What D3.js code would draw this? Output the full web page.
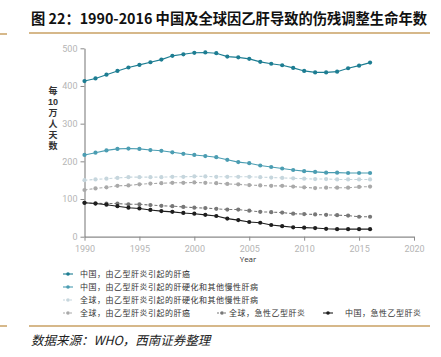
<!DOCTYPE html>
<html><head><meta charset="utf-8">
<script src="https://cdn.jsdelivr.net/npm/d3@7"></script>
<style>body{margin:0;background:#fff}svg{display:block}</style>
</head><body>
<script>
const years = d3.range(1990, 2017);
const chinaLiverCancer = [413,420,430,440,449,456,463,470,480,484,488,489,487,478,476,472,464,459,455,448,440,436,436,438,447,454,462];
const chinaCirrhosis = [217,223,229,233,234,233,230,228,224,220,217,214,211,204,198,195,189,185,181,177,174,172,170,170,169,169,169];
const globalCirrhosis = [150,152,154,156,158,158,158,158,159,159,160,160,159,159,159,159,158,157,156,155,154,153,153,152,152,152,152];
const globalLiverCancer = [124,128,131,135,136,139,141,142,143,143,144,143,142,140,139,137,136,135,135,133,131,129,130,130,130,132,133];
const globalAcute = [90,88.5,88,88,86,86,84,82,81,79,77,76,74,72,72,69,66,65,64,61,60,59,58,57,56,53,53];
const chinaAcute = [90,88,85,81,77,75,71,68,66,63,61,58,55,48,44,39,37,31,28,25,24,23,21,20,20,20,20];
const seriesNames = ["中国，由乙型肝炎引起的肝癌","中国，由乙型肝炎引起的肝硬化和其他慢性肝病","全球，由乙型肝炎引起的肝硬化和其他慢性肝病","全球，由乙型肝炎引起的肝癌","全球，急性乙型肝炎","中国，急性乙型肝炎"];
const seriesValues = [chinaLiverCancer, chinaCirrhosis, globalCirrhosis, globalLiverCancer, globalAcute, chinaAcute];
const seriesColors = ["#1d7d92","#4b9db2","#c6d6dd","#a9a9a9","#777777","#1e1e1e"];
const seriesDash = [null,null,"3,2","3,2","3,2",null];
const xTicks = [1990,1995,2000,2005,2010,2015,2020];
const yTicks = [0,100,200,300,400,500];
const title = "图 22：1990-2016 中国及全球因乙肝导致的伤残调整生命年数";
const source = "数据来源：WHO，西南证券整理";
const yLabel = ["每","10","万","人","天","数"];

const W=441,H=357;
const svg=d3.select("body").append("svg").attr("width",W).attr("height",H);
const tan="#c9a063";
const cjk="'Noto Sans CJK SC','Noto Sans',sans-serif";

svg.append("text").attr("x",31).attr("y",24).attr("font-family",cjk).attr("font-weight","bold")
  .attr("font-size",14.5).attr("fill","#111").attr("textLength",396).attr("lengthAdjust","spacingAndGlyphs").text(title);
[[0,7,34],[29,430,33],[0,7,326],[29,430,326]].forEach(d=>{
  svg.append("line").attr("x1",d[0]).attr("x2",d[1]).attr("y1",d[2]).attr("y2",d[2]).attr("stroke",tan).attr("stroke-width",1.5);
});
svg.append("text").attr("x",31).attr("y",345).attr("font-family",cjk).attr("font-style","italic")
  .attr("font-size",12.5).attr("fill","#222").text(source);

const x=d3.scaleLinear().domain([1990,2020]).range([84.5,414]);
const y=d3.scaleLinear().domain([0,500]).range([236.7,48.3]);

const gx=svg.append("g").attr("transform","translate(0,236.7)")
  .call(d3.axisBottom(x).tickValues(xTicks).tickFormat(d3.format("d")).tickSize(4).tickSizeOuter(0));
const gy=svg.append("g").attr("transform","translate(84.5,0)")
  .call(d3.axisLeft(y).tickValues(yTicks).tickSize(4).tickSizeOuter(0));
[gx,gy].forEach(g=>{
  g.select(".domain").attr("stroke","#8a8a8a").attr("stroke-width",1.2);
  g.selectAll(".tick line").attr("stroke","#8a8a8a");
  g.selectAll("text").attr("fill","#b5b5b5").attr("font-family","'Liberation Sans Narrow','Roboto',sans-serif").attr("font-size",9);
});
gx.selectAll("text").attr("dy","0.9em");

svg.append("text").attr("x",248).attr("y",262).attr("text-anchor","middle").attr("font-family","'Open Sans',sans-serif")
  .attr("font-size",8).attr("fill","#333").text("Year");

const ylY=[91,102,113,124,135,146];
yLabel.forEach((t,i)=>svg.append("text").attr("x",53).attr("y",ylY[i]).attr("dy","0.35em").attr("text-anchor","middle")
  .attr("font-family","'Liberation Sans','Noto Sans CJK SC',sans-serif").attr("font-weight","bold")
  .attr("font-size",9).attr("fill","#333").text(t));

const line=d3.line().x((d,i)=>x(years[i])).y(d=>y(d));
seriesValues.forEach((vals,k)=>{
  const g=svg.append("g");
  g.append("path").datum(vals).attr("d",line).attr("fill","none").attr("stroke",seriesColors[k])
    .attr("stroke-width",1.1).attr("stroke-dasharray",seriesDash[k]);
  g.selectAll("circle").data(vals).join("circle").attr("cx",(d,i)=>x(years[i])).attr("cy",d=>y(d))
    .attr("r",2.1).attr("fill",seriesColors[k]);
});

const legendPos=[[63,274],[63,287],[63,300],[63,313],[217,313],[323,313]];
legendPos.forEach((p,k)=>{
  const g=svg.append("g").attr("transform",`translate(${p[0]},${p[1]})`);
  g.append("line").attr("x1",0).attr("x2",10).attr("stroke",seriesColors[k]).attr("stroke-width",1.1).attr("stroke-dasharray",seriesDash[k]?"2,1.5":null);
  g.append("circle").attr("cx",5).attr("r",1.8).attr("fill",seriesColors[k]);
  g.append("text").attr("x",k>=4?(k===4?12:22):17).attr("y",0).attr("dy","0.35em").attr("font-family",cjk)
    .attr("font-size",8).attr("letter-spacing",0.5).attr("fill","#333").text(seriesNames[k]);
});
</script>
</body></html>
